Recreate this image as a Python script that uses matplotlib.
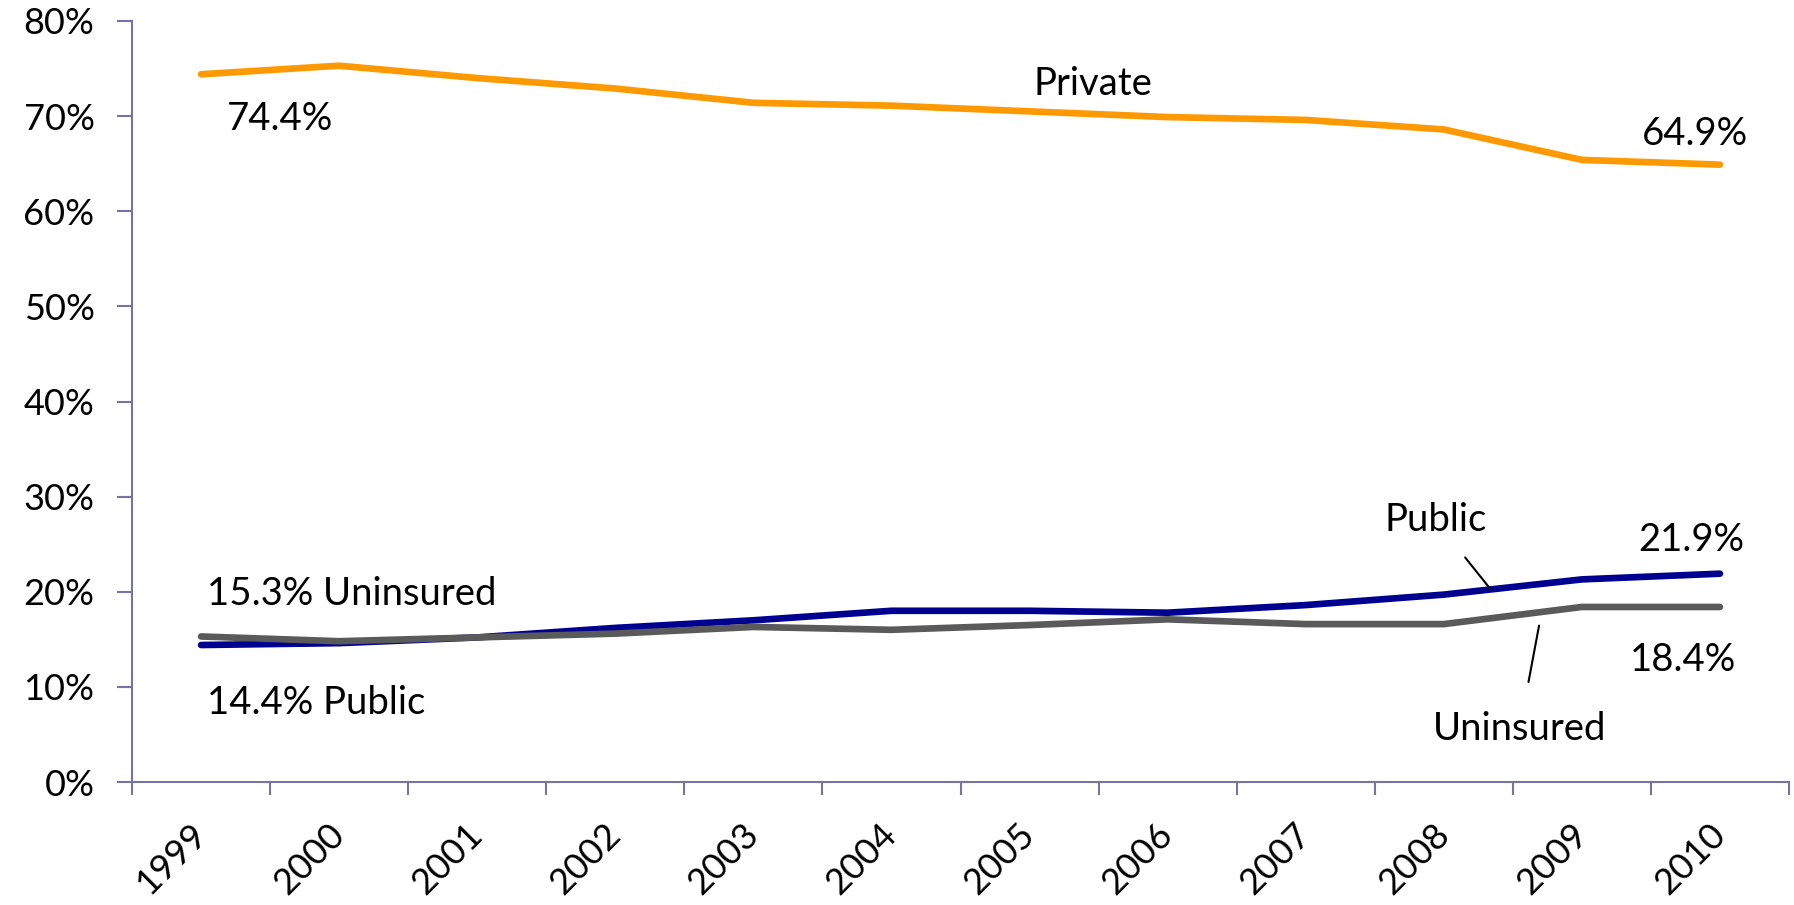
import numpy as np
import matplotlib.pyplot as plt
from matplotlib.ticker import FixedLocator

# Share of people by coverage type, 1999-2010 (percent)
years = ['1999', '2000', '2001', '2002', '2003', '2004',
         '2005', '2006', '2007', '2008', '2009', '2010']
private = [74.4, 75.3, 74.0, 72.9, 71.4, 71.1, 70.5, 69.9, 69.6, 68.6, 65.4, 64.9]
public = [14.4, 14.6, 15.2, 16.2, 17.0, 18.0, 18.0, 17.8, 18.6, 19.7, 21.3, 21.9]
uninsured = [15.3, 14.8, 15.2, 15.6, 16.3, 16.0, 16.5, 17.1, 16.6, 16.6, 18.4, 18.4]
yticks = [0, 10, 20, 30, 40, 50, 60, 70, 80]

axis_col = '#7474a6'
tick_fs = 26
fs = 27.5

plt.rcParams['font.family'] = ['Lato', 'DejaVu Sans']

fig = plt.figure(figsize=(17.94, 9.05), dpi=100)
ax = fig.add_axes([0.0736, 0.1359, 0.9236, 0.8409])

x = np.arange(len(years))
lw = 4.8
ax.plot(x, private, color='#ff9900', lw=lw, solid_capstyle='round', zorder=3)
ax.plot(x, public, color='#000090', lw=lw, solid_capstyle='round', zorder=3)
ax.plot(x, uninsured, color='#5a5a5a', lw=lw, solid_capstyle='round', zorder=4)

ax.set_xlim(-0.5, len(years) - 0.5)
ax.set_ylim(0, 80)

# y axis
ax.set_yticks(yticks)
ax.set_yticklabels([f'{v}%' for v in yticks])
ax.tick_params(axis='y', direction='out', length=11, width=1.5, color=axis_col,
               pad=16, labelsize=tick_fs)

# category axis: labels at centres, ticks between categories
ax.set_xticks(x)
ax.set_xticklabels(years, rotation=45, ha='right', va='center',
                   rotation_mode='anchor')
ax.tick_params(axis='x', which='major', length=0, pad=34, labelsize=tick_fs)
ax.xaxis.set_minor_locator(FixedLocator(np.arange(-0.5, len(years), 1.0)))
ax.tick_params(axis='x', which='minor', direction='out', length=9.5, width=1.5,
               color=axis_col)

for s in ['top', 'right']:
    ax.spines[s].set_visible(False)
for s in ['left', 'bottom']:
    ax.spines[s].set_color(axis_col)
    ax.spines[s].set_linewidth(1.5)

# data labels
ax.text(6.46, 73.4, 'Private', fontsize=fs, ha='center', va='center')
ax.text(0.57, 69.7, f'{private[0]}%', fontsize=fs, ha='center', va='center')
ax.text(10.82, 68.1, f'{private[-1]}%', fontsize=fs, ha='center', va='center')
ax.text(0.04, 19.8, f'{uninsured[0]}% Uninsured', fontsize=fs, ha='left', va='center')
ax.text(0.04, 8.3, f'{public[0]}% Public', fontsize=fs, ha='left', va='center')
ax.text(10.79, 25.4, f'{public[-1]}%', fontsize=fs, ha='center', va='center')
ax.text(10.73, 12.8, f'{uninsured[-1]}%', fontsize=fs, ha='center', va='center')

# series names with leader lines
xp = 9.34
ax.annotate('Public', xy=(xp, np.interp(xp, x, public)), xytext=(8.94, 27.5),
            fontsize=fs, ha='center', va='center',
            arrowprops=dict(arrowstyle='-', color='black', lw=1.5,
                            shrinkA=15, shrinkB=0))
xu = 9.69
ax.annotate('Uninsured', xy=(xu, np.interp(xu, x, uninsured) - 1.4), xytext=(9.55, 5.6),
            fontsize=fs, ha='center', va='center',
            arrowprops=dict(arrowstyle='-', color='black', lw=1.5,
                            shrinkA=19, shrinkB=0))

plt.savefig('out.png', dpi=100)
